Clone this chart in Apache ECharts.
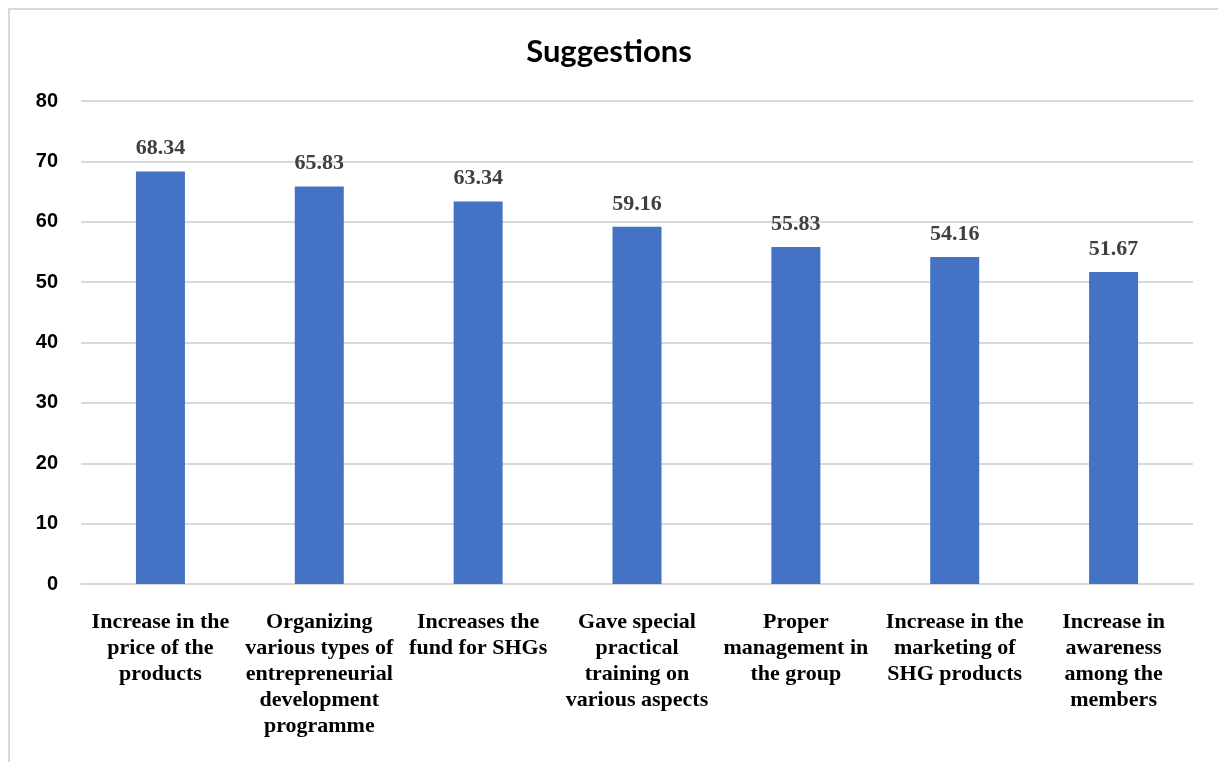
<!DOCTYPE html>
<html>
<head>
<meta charset="utf-8">
<script src="https://cdn.jsdelivr.net/npm/echarts@6/dist/echarts.min.js"></script>
<style>
  html, body { margin: 0; padding: 0; background: #fff; }
  #chart { width: 1218px; height: 762px; }
  .frame {
    position: absolute; left: 8px; top: 8px; width: 1300px; height: 900px;
    border: 2px solid #d9d9d9; pointer-events: none;
  }
</style>
</head>
<body>
<div id="chart"></div>
<div class="frame"></div>
<script>
const categories = [
  "Increase in the\nprice of the\nproducts",
  "Organizing\nvarious types of\nentrepreneurial\ndevelopment\nprogramme",
  "Increases the\nfund for SHGs",
  "Gave special\npractical\ntraining on\nvarious aspects",
  "Proper\nmanagement in\nthe group",
  "Increase in the\nmarketing of\nSHG products",
  "Increase in\nawareness\namong the\nmembers"
];
const values = [68.34, 65.83, 63.34, 59.16, 55.83, 54.16, 51.67];

const chart = echarts.init(document.getElementById("chart"));

const option = {
  animation: false,
  title: {
    text: "Suggestions",
    left: "center",
    top: 31,
    textStyle: {
      fontFamily: "Lato",
      fontWeight: "bold",
      fontSize: 31,
      color: "#000"
    }
  },
  grid: {
    left: 81,
    right: 25,
    top: 101,
    bottom: 178,
    containLabel: false
  },
  xAxis: {
    type: "category",
    data: categories,
    axisLine: { lineStyle: { color: "#d9d9d9", width: 2 } },
    axisTick: { show: false },
    axisLabel: {
      interval: 0,
      margin: 25,
      fontFamily: "Liberation Serif",
      fontWeight: "bold",
      fontSize: 22,
      lineHeight: 26,
      color: "#000"
    }
  },
  yAxis: {
    type: "value",
    min: 0,
    max: 80,
    interval: 10,
    axisLine: { show: false },
    axisTick: { show: false },
    splitLine: { lineStyle: { color: "#d9d9d9", width: 2 } },
    axisLabel: {
      margin: 23,
      fontFamily: "Liberation Sans",
      fontWeight: "bold",
      fontSize: 20,
      color: "#000"
    }
  },
  series: [
    {
      type: "bar",
      data: values,
      barWidth: 49,
      itemStyle: { color: "#4472C4" },
      label: {
        show: true,
        position: "top",
        distance: 12,
        formatter: (p) => p.value.toFixed(2),
        fontFamily: "Liberation Serif",
        fontWeight: "bold",
        fontSize: 22,
        color: "#404040"
      }
    }
  ]
};

chart.setOption(option);
</script>
</body>
</html>
